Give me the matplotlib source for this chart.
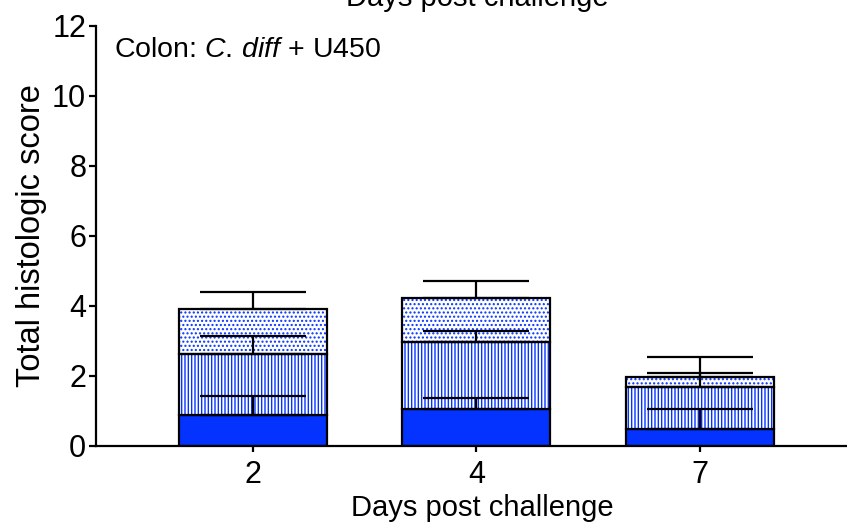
import matplotlib
matplotlib.use("Agg")
import matplotlib.pyplot as plt
import numpy as np

plt.rcParams['font.family'] = ['Liberation Sans', 'DejaVu Sans']
plt.rcParams['mathtext.fontset'] = 'custom'
plt.rcParams['mathtext.rm'] = 'Liberation Sans'
plt.rcParams['mathtext.it'] = 'Liberation Sans:italic'
plt.rcParams['hatch.linewidth'] = 1.0

# Histologic score components (stacked), per day post challenge
days = ["2", "4", "7"]
solid_vals = [0.88, 1.05, 0.48]
solid_err = [0.56, 0.33, 0.57]
stripe_vals = [1.75, 1.93, 1.19]
stripe_err = [0.51, 0.31, 0.42]
dot_vals = [1.27, 1.24, 0.29]
dot_err = [0.49, 0.50, 0.57]

blue = "#0433FF"

fig = plt.figure(figsize=(8.47, 5.29), dpi=100)
ax = fig.add_axes([0.1133, 0.157, 0.8867, 0.794])

x = np.arange(len(days))
w = 0.662

solid = np.array(solid_vals)
stripe = np.array(stripe_vals)
dots = np.array(dot_vals)
b2 = solid
b3 = solid + stripe

# fills
ax.bar(x, solid, w, color=blue, edgecolor="black", linewidth=1.6, zorder=2)
ax.bar(x, stripe, w, bottom=b2, color="white", edgecolor=blue, hatch="|||||",
       linewidth=0, zorder=2)
ax.bar(x, dots, w, bottom=b3, color="white", edgecolor=blue, hatch="....",
       linewidth=0, zorder=2)
# outlines
ax.bar(x, stripe, w, bottom=b2, fill=False, edgecolor="black", linewidth=1.6, zorder=3)
ax.bar(x, dots, w, bottom=b3, fill=False, edgecolor="black", linewidth=1.6, zorder=3)

# upward-only error bars at each segment top
for tops, err in [(solid, solid_err), (b3, stripe_err), (b3 + dots, dot_err)]:
    e = np.array(err)
    ax.errorbar(x, tops, yerr=[np.zeros_like(e), e], fmt="none", ecolor="black",
                elinewidth=1.6, capsize=38, capthick=1.6, zorder=4)

ax.set_xlim(-0.7025, 2.658)
ax.set_ylim(0, 12)
ax.set_yticks([0, 2, 4, 6, 8, 10, 12])
ax.set_xticks(x)
ax.set_xticklabels(days)

for s in ["top", "right"]:
    ax.spines[s].set_visible(False)
for s in ["left", "bottom"]:
    ax.spines[s].set_linewidth(1.6)

ax.tick_params(axis="y", labelsize=22, length=5, width=1.6, pad=2)
ax.tick_params(axis="x", labelsize=22, length=4, width=1.6, pad=6)

ax.set_ylabel("Total histologic score", fontsize=23.5, labelpad=4)
ax.set_xlabel("Days post challenge", fontsize=21, labelpad=6)
ax.xaxis.set_label_coords(0.514, -0.115)

ax.text(0.024, 0.926, r"Colon: $\mathit{C.\,diff}$ + U450", transform=ax.transAxes,
        fontsize=20.5, ha="left", va="baseline")

# x-axis label repeated from the panel above, partly outside the figure
fig.text(477 / 847, 1 - 6.5 / 529, "Days post challenge", fontsize=21,
         ha="center", va="baseline")

fig.savefig("out.png", dpi=100)
